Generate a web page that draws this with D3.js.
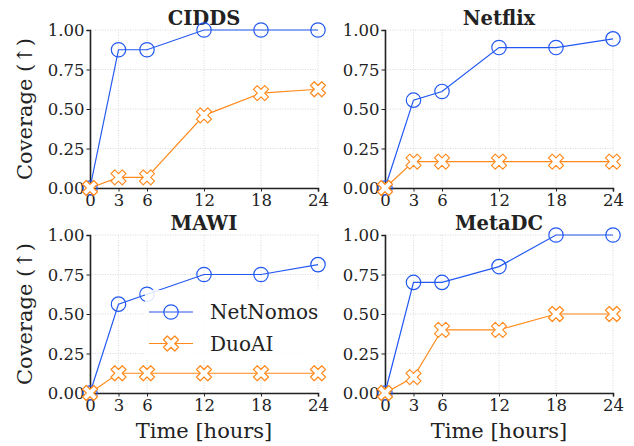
<!DOCTYPE html>
<html>
<head>
<meta charset="utf-8">
<script src="https://cdn.jsdelivr.net/npm/d3@7"></script>
<style>
  body { margin: 0; background: #fff; }
  svg, svg text { font-family: 'DejaVu Serif' !important; }
</style>
</head>
<body>
<svg id="svg" width="634" height="446" font-family="DejaVu Serif"></svg>
<script>
// data
var hours = [0, 3, 6, 12, 18, 24];
var yTicks = [0, 0.25, 0.5, 0.75, 1];
var datasets = ["CIDDS", "Netflix", "MAWI", "MetaDC"];
var seriesNames = ["NetNomos", "DuoAI"];

var cidNetNomos = [0, 0.875, 0.875, 1, 1, 1];
var cidDuoAI = [0, 0.067, 0.067, 0.46, 0.6, 0.625];
var netflixNetNomos = [0, 0.556, 0.611, 0.889, 0.889, 0.944];
var netflixDuoAI = [0, 0.167, 0.167, 0.167, 0.167, 0.167];
var mawiNetNomos = [0, 0.5625, 0.625, 0.75, 0.75, 0.8125];
var mawiDuoAI = [0, 0.125, 0.125, 0.125, 0.125, 0.125];
var metaNetNomos = [0, 0.7, 0.7, 0.8, 1, 1];
var metaDuoAI = [0, 0.1, 0.4, 0.4, 0.5, 0.5];

var panelValues = [
  [cidNetNomos, cidDuoAI],
  [netflixNetNomos, netflixDuoAI],
  [mawiNetNomos, mawiDuoAI],
  [metaNetNomos, metaDuoAI]
];

var colors = ["#2158f2", "#ff8a1c"];
var ink = "#222";

// panel frames (left, top) and size
var panelW = 228, panelH = 158;
var panelPos = [[90, 30], [385, 30], [90, 235], [385, 235]];

var svg = d3.select("#svg");

// matplotlib 'X' filled marker
var xPts = [[-1,-2],[0,-1],[1,-2],[2,-1],[1,0],[2,1],[1,2],[0,1],[-1,2],[-2,1],[-1,0],[-2,-1]];
function xMarker(size){
  var s = size / 4;
  return "M" + xPts.map(function(p){ return (p[0]*s) + "," + (p[1]*s); }).join("L") + "Z";
}

function drawMarker(g, k, cx, cy){
  if (k == 0) {
    g.append("circle").attr("cx", cx).attr("cy", cy).attr("r", 7.2)
      .attr("fill", "none").attr("stroke", colors[0]).attr("stroke-width", 1.2);
  } else {
    g.append("path").attr("d", xMarker(15)).attr("transform", "translate(" + cx + "," + cy + ")")
      .attr("fill", "#fff").attr("stroke", colors[1]).attr("stroke-width", 1.2)
      .attr("stroke-linejoin", "round");
  }
}

function label(sel, size, bold){
  sel.attr("font-family", "DejaVu Serif").attr("font-size", size)
    .style("font-family", "'DejaVu Serif'").style("font-size", size + "px").style("fill", ink);
  if (bold) sel.attr("font-weight", "bold").style("font-weight", "bold");
  return sel;
}

datasets.forEach(function(name, i){
  var pos = panelPos[i];
  var g = svg.append("g").attr("transform", "translate(" + pos[0] + "," + pos[1] + ")");
  var x = d3.scaleLinear().domain([0, 24]).range([0, panelW]);
  var y = d3.scaleLinear().domain([0, 1]).range([panelH, 0]);

  // grid
  g.selectAll(".gx").data(hours).enter().append("line")
    .attr("x1", x).attr("x2", x).attr("y1", 0).attr("y2", panelH)
    .attr("stroke", "#cfcfcf").attr("stroke-width", 0.8).attr("stroke-dasharray", "1,1.5");
  g.selectAll(".gy").data(yTicks).enter().append("line")
    .attr("y1", y).attr("y2", y).attr("x1", 0).attr("x2", panelW)
    .attr("stroke", "#cfcfcf").attr("stroke-width", 0.8).attr("stroke-dasharray", "1,1.5");

  // axes
  var xa = g.append("g").attr("transform", "translate(0," + panelH + ")")
    .call(d3.axisBottom(x).tickValues(hours).tickSize(3.5).tickPadding(2));
  var ya = g.append("g")
    .call(d3.axisLeft(y).tickValues(yTicks).tickFormat(d3.format(".2f")).tickSize(3.5).tickPadding(2));
  [xa, ya].forEach(function(a){
    a.attr("font-family", "DejaVu Serif");
    a.select(".domain").attr("stroke", ink).attr("stroke-width", 1.6);
    a.selectAll(".tick line").attr("stroke", ink);
    label(a.selectAll("text"), 16.5);
  });
  ya.selectAll("text").attr("dy", "0.36em");
  xa.selectAll("text").attr("dy", "0.78em");

  // title
  label(g.append("text"), 19.5, true).attr("x", panelW / 2).attr("y", -5)
    .attr("text-anchor", "middle").text(name);

  // series
  var line = d3.line().x(function(d, j){ return x(hours[j]); }).y(function(d){ return y(d); });
  panelValues[i].forEach(function(vals, k){
    g.append("path").datum(vals).attr("d", line)
      .attr("fill", "none").attr("stroke", colors[k]).attr("stroke-width", 1.2);
  });
  panelValues[i].forEach(function(vals, k){
    vals.forEach(function(v, j){ drawMarker(g, k, x(hours[j]), y(v)); });
  });

  // axis labels
  if (i % 2 == 0) {
    label(g.append("text"), 21).attr("transform", "translate(-58," + (panelH / 2) + ") rotate(-90)")
      .attr("text-anchor", "middle").text("Coverage (\u2191)");
  }
  if (i >= 2) {
    label(g.append("text"), 21).attr("x", panelW / 2).attr("y", panelH + 45)
      .attr("text-anchor", "middle").text("Time [hours]");
  }

  // legend in the MAWI panel
  if (i == 2) {
    var lg = g.append("g").attr("transform", "translate(55,55)");
    lg.append("rect").attr("x", 0).attr("y", 0).attr("width", 190).attr("height", 70)
      .attr("fill", "#fff").attr("opacity", 0.85);
    seriesNames.forEach(function(s, k){
      var ly = 22 + k * 31.5;
      lg.append("line").attr("x1", 4).attr("x2", 48).attr("y1", ly).attr("y2", ly)
        .attr("stroke", colors[k]).attr("stroke-width", 1.2);
      drawMarker(lg, k, 26, ly);
      label(lg.append("text"), 20).attr("x", 65).attr("y", ly).attr("dy", "0.36em").text(s);
    });
  }
});
</script>
</body>
</html>
